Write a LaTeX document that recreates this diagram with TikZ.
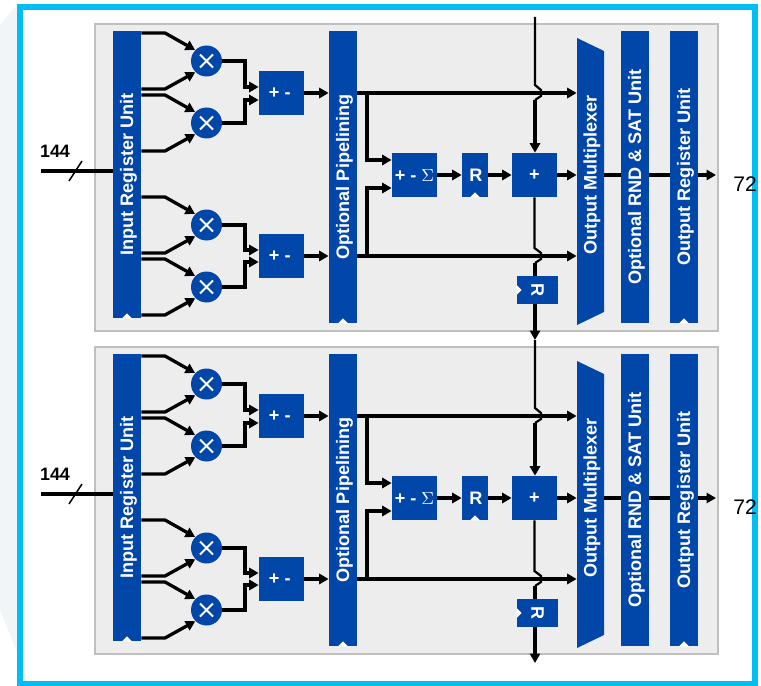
\documentclass[tikz,border=0pt]{standalone}
\usepackage{fontspec}
\setmainfont{Liberation Sans}
\usetikzlibrary{arrows.meta}
\definecolor{unitblue}{HTML}{0047A9}
\definecolor{framecyan}{HTML}{00BEF5}
\definecolor{panelgray}{HTML}{EDEDED}
\definecolor{panelline}{HTML}{BFBFBF}
\definecolor{sidepale}{HTML}{F2F5F8}
\newlength\px
\setlength\px{0.02cm}
\newcommand{\vtext}[1]{\hspace*{1.7pt}\rotatebox{90}{#1}}
\newcommand{\optext}[1]{\hspace*{-2pt}\raisebox{-1.1pt}{#1}}
\tikzset{
  unit/.style={fill=unitblue, text=white, inner sep=0pt, font=\fontsize{10.3}{12}\selectfont\bfseries},
  bar/.style={unit, minimum width=28*\px},
  box/.style={unit, minimum width=45*\px, minimum height=44*\px},
  mult/.style={unit, circle, minimum size=31*\px},
  panel/.style={fill=panelgray, draw=panelline, line width=2*\px},
  clktip/.style={fill=white},
  wire/.style={line width=3.3*\px},
  thinwire/.style={line width=2.2*\px},
  tip/.style={-{Triangle[length=5.4pt,width=5.8pt]}},
}
\begin{document}
\begin{tikzpicture}[x=0.02cm, y=-0.02cm]
\useasboundingbox (0,0) rectangle (761,686);

\fill[sidepale] (0,25) -- (17,5) -- (17,652) -- (0,610) -- cycle;
\draw[framecyan, line width=6*\px] (20,7) rectangle (755,684);

\foreach \p/\s in {a/0,b/323}{
\begin{scope}[shift={(0,\s)}]
\draw[panel] (95,24) rectangle (718,331);

\node[bar, minimum height=287*\px] (inreg\p) at (127,174.5) {\vtext{Input Register Unit}};
\node[bar, minimum height=292*\px] (pipe\p) at (343,177) {\vtext{Optional Pipelining}};
\node[bar, minimum height=292*\px] (rnd\p) at (635,177) {\vtext{Optional RND \& SAT Unit}};
\node[bar, minimum height=292*\px] (outreg\p) at (684,177) {\vtext{Output Register Unit}};
\fill[unitblue] (577,38) -- (604,51) -- (604,312) -- (577,325) -- cycle;
\node[unit, fill=none, minimum width=27*\px, minimum height=260*\px] (mux\p) at (590.5,175) {\vtext{Output Multiplexer}};

\node[mult] (mula\p) at (206.5,61) {};
\node[mult] (mulb\p) at (206.5,123) {};
\node[mult] (mulc\p) at (206.5,225) {};
\node[mult] (muld\p) at (206.5,287) {};
\foreach \m in {mula,mulb,mulc,muld}{
\draw[white, line width=2*\px] (\m\p.center) ++(-6.5,-6.5) -- ++(13,13) ++(-13,0) -- ++(13,-13);
}

\node[box] (adda\p) at (281.5,93) {\optext{+ -}};
\node[box] (addb\p) at (281.5,256) {\optext{+ -}};
\node[box] (sum\p) at (414.5,175) {\raisebox{-1.1pt}{+ - $\Sigma$}};
\node[unit, minimum width=26*\px, minimum height=44*\px] (regr\p) at (475,175) {\hspace*{1pt}\raisebox{-.6pt}{R}};
\node[box] (addc\p) at (534.5,175) {\raisebox{-1.1pt}{+}};
\node[unit, minimum width=41*\px, minimum height=28*\px] (regc\p) at (537.5,290) {\rotatebox{-90}{R}};

\fill[clktip] (inreg\p.south) ++(-5,0) -- ++(5,-5) -- ++(5,5) -- cycle;
\fill[clktip] (pipe\p.south) ++(-5,0) -- ++(5,-5) -- ++(5,5) -- cycle;
\fill[clktip] (outreg\p.south) ++(-5,0) -- ++(5,-5) -- ++(5,5) -- cycle;
\fill[clktip] (regr\p.south) ++(-5,0) -- ++(5,-5) -- ++(5,5) -- cycle;
\fill[clktip] (regc\p.west) ++(0,-5) -- ++(5,5) -- ++(-5,5) -- cycle;

\draw[wire, tip] (inreg\p.east |- 0,33) -- (165,33) -- (mula\p.136);
\draw[wire, tip] (inreg\p.east |- 0,89) -- (165,89) -- (mula\p.225);
\draw[wire, tip] (inreg\p.east |- 0,95) -- (165,95) -- (mulb\p.136);
\draw[wire, tip] (inreg\p.east |- 0,151) -- (165,151) -- (mulb\p.225);
\draw[wire, tip] (inreg\p.east |- 0,197) -- (165,197) -- (mulc\p.136);
\draw[wire, tip] (inreg\p.east |- 0,253) -- (165,253) -- (mulc\p.225);
\draw[wire, tip] (inreg\p.east |- 0,259) -- (165,259) -- (muld\p.136);
\draw[wire, tip] (inreg\p.east |- 0,315) -- (165,315) -- (muld\p.225);

\draw[wire, tip] (mula\p.east) -- (245,61) -- (245,87) -- (adda\p.west |- 0,87);
\draw[wire, tip] (mulb\p.east) -- (245,123) -- (245,100) -- (adda\p.west |- 0,100);
\draw[wire, tip] (mulc\p.east) -- (245,225) -- (245,250) -- (addb\p.west |- 0,250);
\draw[wire, tip] (muld\p.east) -- (245,287) -- (245,262) -- (addb\p.west |- 0,262);

\draw[wire, tip] (adda\p.east) -- (pipe\p.west |- adda\p.east);
\draw[wire, tip] (addb\p.east) -- (pipe\p.west |- addb\p.east);
\draw[wire, tip] (pipe\p.east |- adda\p.east) -- (mux\p.west |- adda\p.east);
\draw[wire, tip] (pipe\p.east |- addb\p.east) -- (mux\p.west |- addb\p.east);

\coordinate (tapa\p) at (367,93);
\coordinate (tapb\p) at (367,256);
\draw[wire, tip] (tapa\p) |- (sum\p.west |- 0,160);
\draw[wire, tip] (tapb\p) |- (sum\p.west |- 0,188);

\draw[wire, tip] (sum\p.east) -- (regr\p.west);
\draw[wire, tip] (regr\p.east) -- (addc\p.west);
\draw[wire, tip] (addc\p.east) -- (mux\p.west |- addc\p.east);
\draw[wire] (mux\p.east |- addc\p.east) -- (rnd\p.west |- addc\p.east);
\draw[wire] (rnd\p.east |- addc\p.east) -- (outreg\p.west |- addc\p.east);
\coordinate (out\p) at (716,175);
\draw[wire, tip] (outreg\p.east |- addc\p.east) -- (out\p);

\coordinate (top\p) at (535,17);
\coordinate (bot\p) at (535,340);
\draw[thinwire] (top\p) -- (535,85) -- (541,90) -- (541,96) -- (535,100);
\draw[wire, tip] (535,100) -- (addc\p.north -| top\p);
\draw[thinwire] (addc\p.south) -- (534.5,248) -- (541,253) -- (541,259) -- (535,263);
\draw[wire] (535,263) -- (regc\p.north -| top\p);
\draw[wire, tip] (regc\p.south -| top\p) -- (bot\p);

\coordinate (in\p) at (41,171);
\draw[wire] (in\p) -- (inreg\p.west |- in\p);
\draw[line width=1.5*\px] (69,181) -- (82,161);
\node[font=\fontsize{10.2}{12}\selectfont\bfseries, inner sep=0pt] (bits\p) at (55,151) {144};
\node[font=\fontsize{12}{14}\selectfont, inner sep=0pt] (width\p) at (745,184) {72};
\end{scope}
}
\end{tikzpicture}
\end{document}
